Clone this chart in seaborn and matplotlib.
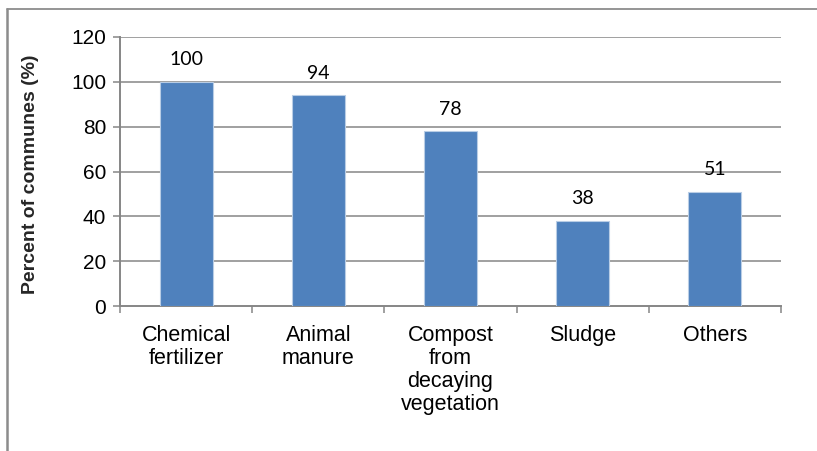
import matplotlib
matplotlib.use("Agg")
import matplotlib.pyplot as plt
import seaborn as sns
import pandas as pd
from matplotlib.lines import Line2D

# Fertilizer sources used by communes
categories = ["Chemical\nfertilizer", "Animal\nmanure", "Compost\nfrom\ndecaying\nvegetation", "Sludge", "Others"]
percent = [100, 94, 78, 38, 51]
y_ticks = [0, 20, 40, 60, 80, 100, 120]

df = pd.DataFrame({"source": categories, "percent": percent})

sns.set_theme(style="white")
plt.rcParams["font.family"] = ["Liberation Sans", "DejaVu Sans"]

fig = plt.figure(figsize=(8.17, 4.51), dpi=100)
ax = fig.add_axes([120 / 817, 1 - 306 / 451, (781 - 120) / 817, (306 - 37) / 451])

sns.barplot(data=df, x="source", y="percent", color="#4F81BD", saturation=1,
            width=0.4, edgecolor="#B9CDE5", linewidth=0.8, ax=ax, zorder=3)

grid_color = "#868686"
ax.set_ylim(0, 120)
ax.set_yticks(y_ticks)
ax.set_xlim(-0.5, len(categories) - 0.5)
for t in y_ticks[1:]:
    ax.axhline(t, color=grid_color, lw=1.1, zorder=1)

for sp in ["top", "right"]:
    ax.spines[sp].set_visible(False)
for sp in ["left", "bottom"]:
    ax.spines[sp].set_color(grid_color)
    ax.spines[sp].set_linewidth(1.4)

ax.tick_params(axis="y", which="both", left=True, length=5, width=1.1, color=grid_color,
               labelsize=15, labelcolor="black", pad=5)
ax.tick_params(axis="x", bottom=False, labelsize=15.5, labelcolor="black", pad=8)
ax.set_xticks(range(len(categories)))
ax.set_xticklabels(categories, linespacing=1.12, va="top")

# boundary ticks between categories
ax.set_xticks([i - 0.5 for i in range(len(categories) + 1)], minor=True)
ax.tick_params(axis="x", which="minor", bottom=True, length=5, width=1.1, color=grid_color)

ax.set_xlabel("")
ax.set_ylabel("Percent of communes (%)", fontsize=14, fontweight="bold")
ax.yaxis.set_label_coords(-0.122, 0.49)

for i, v in enumerate(percent):
    ax.text(i, v + 6, f"{v}", ha="center", va="bottom", fontsize=14,
            family=["Lato", "DejaVu Sans"], color="black", zorder=4)

# outer chart frame (top and left edges)
fig.add_artist(Line2D([7 / 817, 1.0], [1 - 9 / 451, 1 - 9 / 451], color="#8C8C8C", lw=1.3,
                      transform=fig.transFigure))
fig.add_artist(Line2D([7 / 817, 7 / 817], [0, 1 - 9 / 451], color="#8C8C8C", lw=1.8,
                      transform=fig.transFigure))

fig.savefig("out.png", dpi=100, facecolor="white")
